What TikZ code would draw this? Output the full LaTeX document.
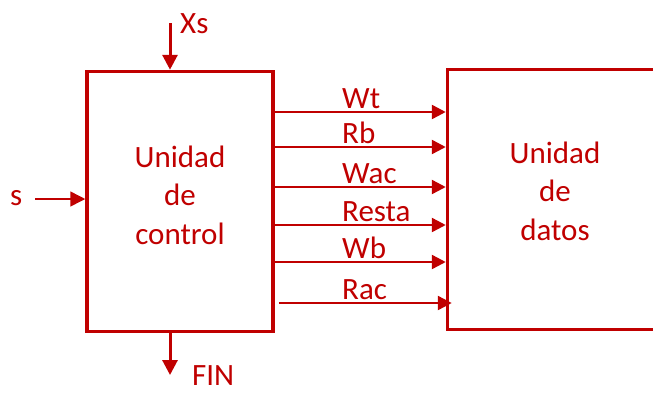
\documentclass[tikz,border=0pt]{standalone}
\usepackage{fontspec}
\setmainfont{Carlito}
\usepackage{tikz}
\usetikzlibrary{arrows.meta, positioning, calc}
\definecolor{rojo}{HTML}{C00000}

\begin{document}
\begin{tikzpicture}[
    x=1pt, y=-1pt,
    every node/.style={text=rojo, font=\fontsize{31}{38.5}\selectfont},
    unit/.style={draw=rojo, line width=3.5pt, inner sep=0pt, minimum height=260pt},
    txt/.style={align=center, inner sep=0pt},
    lbl/.style={inner sep=0pt, anchor=base west},
    io/.style={draw=rojo, line width=3pt, -{Triangle[length=15pt, width=15pt]}},
    sig/.style={draw=rojo, line width=2.5pt, -{Triangle[length=14pt, width=14pt]}},
    node distance=171pt
]
    \useasboundingbox (0,0) rectangle (653,394);

    \node[unit, minimum width=186pt] (ctrl) at (180,201.5) {};
    \node[unit, minimum width=260pt, right=of ctrl, yshift=2pt] (dat) {};
    \node[txt] (ctrltxt) at (180,195) {Unidad\\de\\control};
    \node[txt] (dattxt) at (555,191) {Unidad\\de\\datos};

    \foreach \name/\yy/\dx in {Wt/112/0, Rb/147/0, Wac/187/0, Resta/225/0, Wb/262/0, Rac/303/4} {
        \coordinate (s\name) at ($(ctrl.east |- 0,\yy)+(\dx,0)$);
        \coordinate (e\name) at ($(dat.west |- 0,\yy)+(1.5*\dx,0)$);
        \draw[sig] (s\name) -- (e\name);
        \node[lbl] (l\name) at (342,\yy-4) {\name};
    }

    \coordinate (xsin) at (170,23);
    \draw[io] (xsin) -- (xsin |- ctrl.north);
    \node[lbl] (xs) at (180,33) {Xs};

    \node[lbl] (s) at (10,205) {s};
    \coordinate (sin) at (35,199);
    \draw[io, line width=1.5pt] (sin) -- (sin -| ctrl.west);

    \coordinate (finout) at (170,375);
    \draw[io] (finout |- ctrl.south) -- (finout);
    \node[lbl] (fin) at (192,385) {FIN};
\end{tikzpicture}
\end{document}
